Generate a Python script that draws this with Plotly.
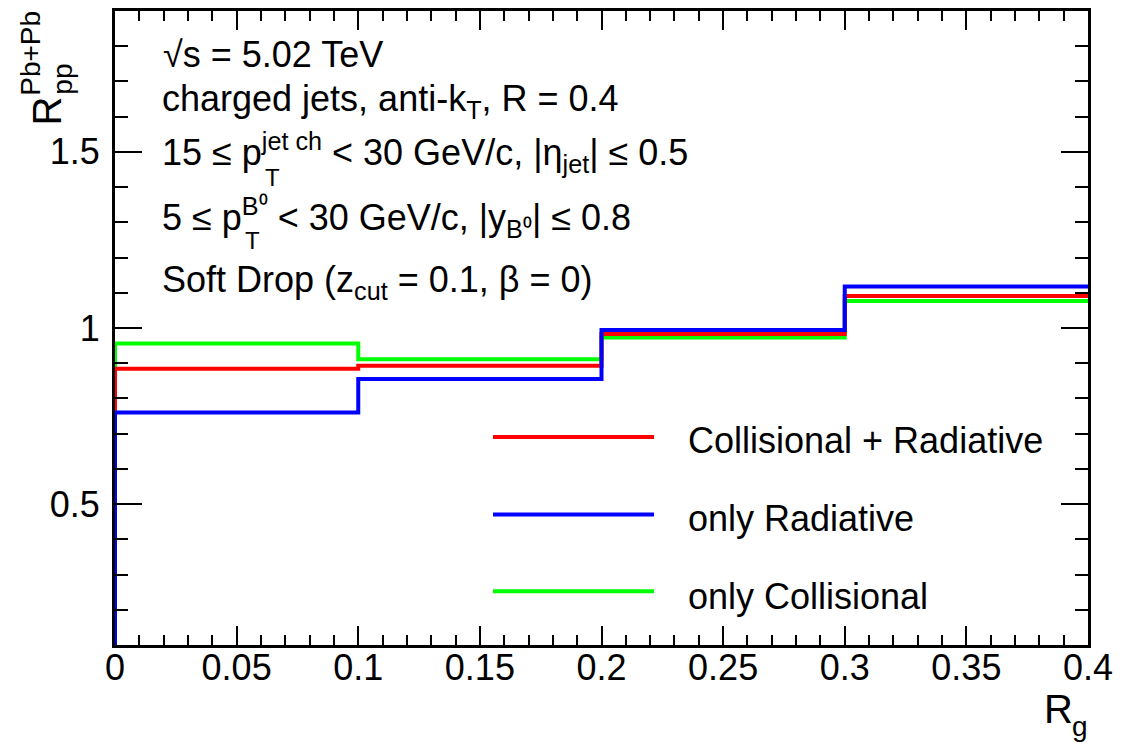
import plotly.graph_objects as go

# ---- data ----
bin_edges = [0.0, 0.1, 0.2, 0.3, 0.4]
series_names = ["Collisional + Radiative", "only Radiative", "only Collisional"]
coll_rad = [0.884, 0.893, 0.983, 1.091]
only_rad = [0.760, 0.855, 0.994, 1.118]
only_coll = [0.956, 0.911, 0.973, 1.077]
x_tick_vals = [0, 0.05, 0.1, 0.15, 0.2, 0.25, 0.3, 0.35, 0.4]
x_tick_text = ["0", "0.05", "0.1", "0.15", "0.2", "0.25", "0.3", "0.35", "0.4"]
y_tick_vals = [0.5, 1.0, 1.5]
y_tick_text = ["0.5", "1", "1.5"]
y_min, y_max = 0.1, 1.9

colors = {"Collisional + Radiative": "#ff0000",
          "only Radiative": "#0000ff",
          "only Collisional": "#00ff00"}
values = {"Collisional + Radiative": coll_rad,
          "only Radiative": only_rad,
          "only Collisional": only_coll}

W, H = 1137, 743
L, R, T, B = 115, 1088, 8, 645
FONT = "Liberation Sans, Arial, Helvetica, sans-serif"
TXT = 36


def px(x):
    return (x - L) / (R - L)


def py(y):
    return (B - y) / (B - T)


fig = go.Figure()
# draw order: green, red, blue (blue on top)
for name in ["only Collisional", "Collisional + Radiative", "only Radiative"]:
    v = values[name]
    xs = [bin_edges[0]] + bin_edges
    ys = [y_min] + v + [v[-1]]
    fig.add_trace(go.Scatter(x=xs, y=ys, mode="lines", line_shape="hv",
                             line=dict(color=colors[name], width=4),
                             name=name, showlegend=False, hoverinfo="skip"))

axis_common = dict(showline=True, linecolor="black", linewidth=3, mirror="ticks",
                   ticks="inside", tickcolor="black", tickwidth=2,
                   showgrid=False, zeroline=False,
                   tickfont=dict(family=FONT, size=36, color="black"))
fig.update_xaxes(range=[0, 0.4], tickmode="array", tickvals=x_tick_vals, ticktext=x_tick_text,
                 ticklen=19, ticklabelstandoff=-11,
                 minor=dict(tick0=0, dtick=0.01, ticks="inside", ticklen=10,
                            tickwidth=2, tickcolor="black", showgrid=False),
                 **axis_common)
fig.update_yaxes(range=[y_min, y_max], tickmode="array", tickvals=y_tick_vals, ticktext=y_tick_text,
                 ticklen=27, ticklabelstandoff=5,
                 minor=dict(tick0=0, dtick=0.1, ticks="inside", ticklen=13,
                            tickwidth=2, tickcolor="black", showgrid=False),
                 **axis_common)

ann = []


def text(x, y, s, size=TXT, xanchor="left", yanchor="middle", angle=0):
    ann.append(dict(x=px(x), y=py(y), xref="paper", yref="paper", text=s,
                    showarrow=False, xanchor=xanchor, yanchor=yanchor, textangle=angle,
                    font=dict(family=FONT, size=size, color="black")))


# info text block
text(161, 52, "√s = 5.02 TeV")
text(160, 98, "charged jets, anti-k<sub>T</sub>, R = 0.4")
text(160, 150, "15 ≤ p<sup>jet ch</sup> < 30 GeV/c, |η<sub>jet</sub>| ≤ 0.5")
text(263, 175, "T", size=24)
text(160, 215, "5 ≤ p<sup>B⁰</sup> < 30 GeV/c, |y<sub>B⁰</sub>| ≤ 0.8")
text(243, 239, "T", size=24)
text(160, 280, "Soft Drop (z<sub>cut</sub> = 0.1, β = 0)")

# axis titles
text(47, 109, "R", size=40, xanchor="center", angle=-90)
text(31, 51, "Pb+Pb", size=28, xanchor="center", angle=-90)
text(63, 77, "pp", size=28, xanchor="center", angle=-90)
text(1058, 709, "R", size=40, xanchor="center")
text(1080, 727, "g", size=28, xanchor="center")

# legend
shapes = []
legend_rows = [(series_names[0], 436, 440), (series_names[1], 514, 518), (series_names[2], 591, 596)]
for name, ly, ty in legend_rows:
    shapes.append(dict(type="line", xref="paper", yref="paper",
                       x0=px(493), x1=px(654), y0=py(ly), y1=py(ly),
                       line=dict(color=colors[name], width=4)))
    text(686, ty, name, size=TXT)

fig.update_layout(width=W, height=H, margin=dict(l=L, r=W - R, t=T, b=H - B),
                  plot_bgcolor="white", paper_bgcolor="white",
                  annotations=ann, shapes=shapes, showlegend=False,
                  font=dict(family=FONT, color="black"))

fig.write_html("out.html")
